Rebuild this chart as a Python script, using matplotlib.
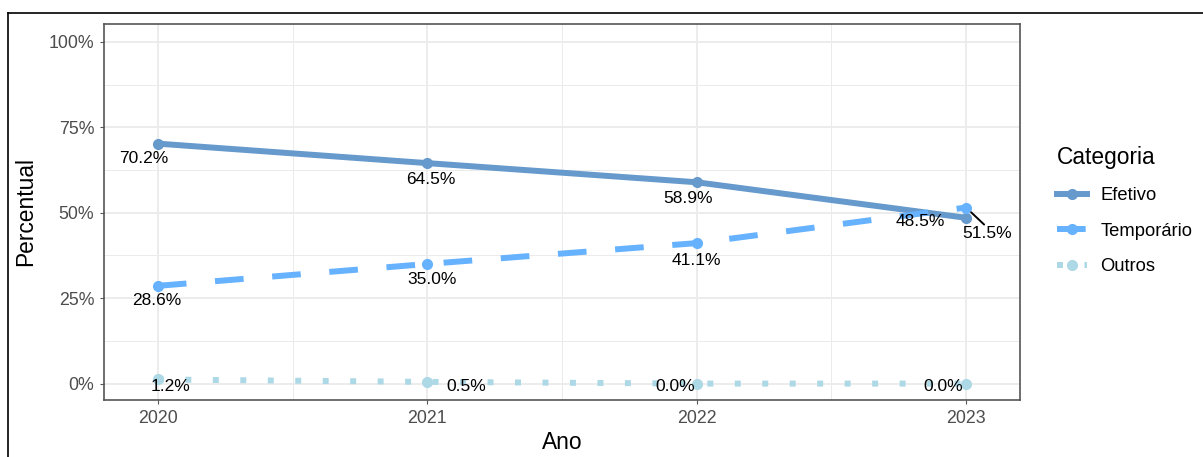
import matplotlib
matplotlib.use("Agg")
import matplotlib.pyplot as plt
from matplotlib.lines import Line2D
from matplotlib.ticker import FuncFormatter, MultipleLocator

plt.rcParams["font.family"] = ["Liberation Sans", "DejaVu Sans"]

# Data (percent share per year)
anos = [2020, 2021, 2022, 2023]
efetivo = [70.2, 64.5, 58.9, 48.5]
temporario = [28.6, 35.0, 41.1, 51.5]
outros = [1.2, 0.5, 0.0, 0.0]

# Label offsets in pixels (dx, dy) - mimic ggrepel placement
off_efetivo = [(-14, -15), (4, -16), (-9, -16), (-46, -4)]
off_temporario = [(-1, -15), (5, -16), (0, -17), (21, -26)]
off_outros = [(13, -7), (39, -5), (-22, -3), (-23, -3)]

series = [
    ("Efetivo", efetivo, "#6699CC", "solid", off_efetivo),
    ("Temporário", temporario, "#66B2FF", (0, (4.8, 4.8)), off_temporario),
    ("Outros", outros, "#ADD8E6", (0, (1.0, 3.6)), off_outros),
]

fig = plt.figure(figsize=(12.03, 4.57), dpi=100)
ax = fig.add_axes([104 / 1203, 57 / 457, 916 / 1203, 376 / 457])

for name, vals, color, ls, offs in series:
    y = [v / 100 for v in vals]
    ax.plot(anos, y, color=color, linestyle=ls, linewidth=4.3,
            dash_capstyle="butt", solid_capstyle="butt", zorder=3)
    ax.plot(anos, y, "o", color=color, markersize=7, zorder=4)
    for i, v in enumerate(vals):
        dx, dy = offs[i]
        ax.annotate(f"{v:.1f}%", (anos[i], y[i]), xytext=(dx, dy),
                    textcoords="offset pixels", ha="center", va="center",
                    fontsize=12.5, color="black", zorder=5)

# repel segment for the 51.5% label
ax.annotate("", (anos[3], temporario[3] / 100), xytext=(18, -17),
            textcoords="offset pixels",
            arrowprops=dict(arrowstyle="-", color="black", lw=1.4,
                            shrinkA=0, shrinkB=5), zorder=5)

ax.set_xlim(2019.8, 2023.2)
ax.set_ylim(-0.048, 1.052)
ax.set_xticks(anos)
ax.xaxis.set_minor_locator(MultipleLocator(0.5))
ax.set_yticks([0, 0.25, 0.5, 0.75, 1.0])
ax.yaxis.set_minor_locator(MultipleLocator(0.125))
ax.yaxis.set_major_formatter(FuncFormatter(lambda v, p: f"{v * 100:.0f}%"))

ax.grid(which="major", color="#EBEBEB", linewidth=1.3, zorder=0)
ax.grid(which="minor", color="#EBEBEB", linewidth=0.7, zorder=0)
ax.set_axisbelow(True)
ax.tick_params(which="major", length=3, width=0.8, color="#555555",
               labelsize=12.8, labelcolor="#4D4D4D", pad=4)
ax.tick_params(which="minor", length=0)
for s in ax.spines.values():
    s.set_color("#555555")
    s.set_linewidth(1.2)

ax.set_xlabel("Ano", fontsize=16.4, color="black", labelpad=3)
ax.set_ylabel("Percentual", fontsize=16.4, color="black", labelpad=8)

handles = [Line2D([0], [0], color=c, linestyle=ls, linewidth=4.3, marker="o",
                  markersize=7, dash_capstyle="butt")
           for _, _, c, ls, _ in series]
leg = fig.legend(handles, [s[0] for s in series], title="Categoria",
                 loc="upper left", bbox_to_anchor=(1048 / 1203, 1 - 137 / 457),
                 frameon=False, fontsize=13.2, title_fontsize=16.4,
                 handlelength=1.6, handletextpad=0.75, labelspacing=1.0,
                 borderpad=0, alignment="left")

# outer frame lines (left and top visible)
fig.add_artist(Line2D([8 / 1203, 8 / 1203], [0, 1 - 13 / 457], color="black", lw=1.2))
fig.add_artist(Line2D([8 / 1203, 1], [1 - 13 / 457, 1 - 13 / 457], color="black", lw=1.2))

fig.savefig("out.png", dpi=100)
